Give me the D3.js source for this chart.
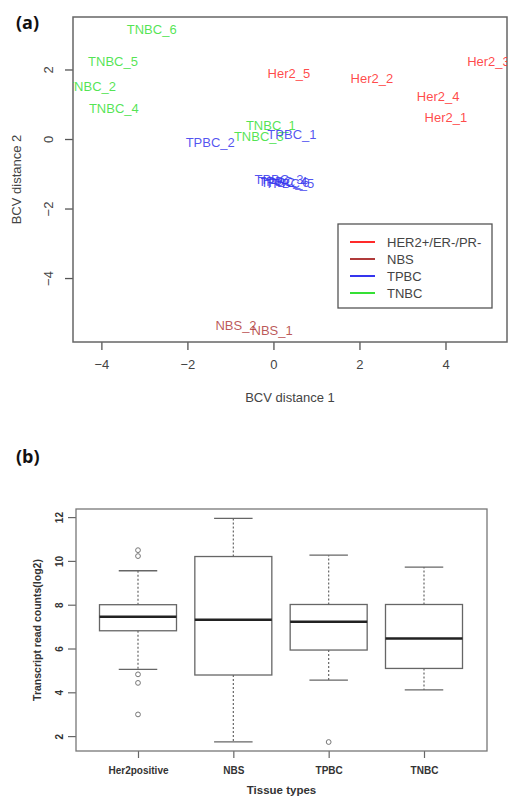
<!DOCTYPE html>
<html><head><meta charset="utf-8">
<script src="https://cdn.jsdelivr.net/npm/d3@7"></script>
<style>body{margin:0;background:#fff}svg{display:block}</style>
</head><body>
<svg id="c" width="518" height="807"></svg>
<script>
// ---------- Panel (a) data ----------
const sampleNames = ["TNBC_6","TNBC_5","TNBC_2","TNBC_4","TNBC_1","TNBC_3","TPBC_2","TPBC_1","TPBC_3","TPBC_4","TPBC_6","TPBC_5","Her2_5","Her2_2","Her2_3","Her2_4","Her2_1","NBS_2","NBS_1"];
const sampleX = [-2.83,-3.73,-4.24,-3.71,-0.06,-0.34,-1.47,0.43,0.13,0.22,0.27,0.38,0.36,2.29,5.0,3.83,4.01,-0.87,-0.03];
const sampleY = [3.14,2.22,1.50,0.89,0.40,0.06,-0.09,0.12,-1.17,-1.22,-1.25,-1.27,1.90,1.73,2.24,1.21,0.63,-5.35,-5.50];
const sampleGroup = ["TNBC","TNBC","TNBC","TNBC","TNBC","TNBC","TPBC","TPBC","TPBC","TPBC","TPBC","TPBC","HER2","HER2","HER2","HER2","HER2","NBS","NBS"];
const legendLabels = ["HER2+/ER-/PR-","NBS","TPBC","TNBC"];
const legendGroups = ["HER2","NBS","TPBC","TNBC"];
const xTicksA = [-4,-2,0,2,4];
const yTicksA = [-4,-2,0,2];

// ---------- Panel (b) data ----------
const tissueTypes = ["Her2positive","NBS","TPBC","TNBC"];
const whiskerLow  = [5.05, 1.74, 4.56, 4.11];
const q1          = [6.81, 4.79, 5.93, 5.09];
const medians     = [7.45, 7.31, 7.22, 6.46];
const q3          = [8.00, 10.20, 8.01, 8.01];
const whiskerHigh = [9.55, 11.94, 10.26, 9.72];
const outliers    = [[10.49,10.22,4.82,4.43,2.99],[],[1.73],[]];
const yTicksB = [2,4,6,8,10,12];

const color = {HER2:"#ff2a2a", NBS:"#b03a3a", TPBC:"#3535ee", TNBC:"#35e035"};

const svg = d3.select("#c");
const FONT = "Liberation Sans, Arial, sans-serif";

// ================= Panel (a) =================
const A = {l:73, r:507, t:17, b:342};
const xa = d3.scaleLinear().domain([-4.66,5.43]).range([A.l,A.r]);
const ya = d3.scaleLinear().domain([3.51,-5.84]).range([A.t,A.b]);

svg.append("text").attr("x",16).attr("y",29).attr("font-family","Open Sans, sans-serif")
  .attr("font-weight","bold").attr("font-size",18).attr("fill","#111").text("(a)");

const clipA = svg.append("clipPath").attr("id","clipA");
clipA.append("rect").attr("x",A.l).attr("y",A.t).attr("width",A.r-A.l).attr("height",A.b-A.t);

const gxA = svg.append("g").attr("transform",`translate(0,${A.b})`)
  .call(d3.axisBottom(xa).tickValues(xTicksA).tickSize(8).tickPadding(10).tickFormat(d3.format("d")));
gxA.select(".domain").remove();
gxA.selectAll("line").attr("stroke","#555").attr("stroke-width",1.3);
gxA.selectAll("text").attr("font-family",FONT).attr("font-size",13).attr("fill","#444");

const gyA = svg.append("g").attr("transform",`translate(${A.l},0)`)
  .call(d3.axisLeft(ya).tickValues(yTicksA).tickSize(8).tickFormat(d3.format("d")));
gyA.select(".domain").remove();
gyA.selectAll("line").attr("stroke","#555").attr("stroke-width",1.3);
gyA.selectAll("text").attr("x",null).attr("dy","0.35em").attr("text-anchor","middle")
  .attr("transform","translate(-25,0) rotate(-90)")
  .attr("font-family",FONT).attr("font-size",13).attr("fill","#444");

svg.append("rect").attr("x",A.l).attr("y",A.t).attr("width",A.r-A.l).attr("height",A.b-A.t)
  .attr("fill","none").attr("stroke","#666").attr("stroke-width",1.5);

svg.append("text").attr("x",(A.l+A.r)/2).attr("y",402).attr("text-anchor","middle")
  .attr("font-family",FONT).attr("font-size",13).attr("fill","#444").text("BCV distance 1");
svg.append("text").attr("transform",`translate(16,${(A.t+A.b)/2}) rotate(-90)`).attr("dy","0.35em")
  .attr("text-anchor","middle").attr("font-family",FONT).attr("font-size",13).attr("fill","#444").text("BCV distance 2");

svg.append("g").attr("clip-path","url(#clipA)").selectAll("text").data(sampleNames).join("text")
  .attr("x",(d,i)=>xa(sampleX[i])).attr("y",(d,i)=>ya(sampleY[i])).attr("dy","0.35em")
  .attr("text-anchor","middle").attr("font-family",FONT).attr("font-size",13)
  .attr("fill",(d,i)=>color[sampleGroup[i]]).attr("fill-opacity",0.85).text(d=>d);

// legend
const L = {x:338, y:224, w:154, h:84};
svg.append("rect").attr("x",L.x).attr("y",L.y).attr("width",L.w).attr("height",L.h)
  .attr("fill","#fff").attr("stroke","#555").attr("stroke-width",1.3);
const lg = svg.append("g").selectAll("g").data(legendLabels).join("g")
  .attr("transform",(d,i)=>`translate(0,${L.y+18+i*17})`);
lg.append("line").attr("x1",350).attr("x2",375).attr("stroke",(d,i)=>color[legendGroups[i]]).attr("stroke-width",2);
lg.append("text").attr("x",387).attr("dy","0.35em").attr("font-family",FONT).attr("font-size",13)
  .attr("fill","#444").text(d=>d);

// ================= Panel (b) =================
const B = {l:76, r:487, t:509, b:751};
const xb = d3.scalePoint().domain(tissueTypes).range([138,424]);
const yb = d3.scaleLinear().domain([1.32,12.37]).range([B.b,B.t]);
const boxW = 77;

svg.append("text").attr("x",16).attr("y",463).attr("font-family","Open Sans, sans-serif")
  .attr("font-weight","bold").attr("font-size",18).attr("fill","#111").text("(b)");

const gxB = svg.append("g").attr("transform",`translate(0,${B.b})`)
  .call(d3.axisBottom(xb).tickSize(7).tickPadding(9));
gxB.select(".domain").remove();
gxB.selectAll("line").attr("stroke","#666").attr("stroke-width",1.2);
gxB.selectAll("text").attr("font-family",FONT).attr("font-size",10).attr("font-weight","bold").attr("fill","#333");

const gyB = svg.append("g").attr("transform",`translate(${B.l},0)`)
  .call(d3.axisLeft(yb).tickValues(yTicksB).tickSize(8).tickFormat(d3.format("d")));
gyB.select(".domain").remove();
gyB.selectAll("line").attr("stroke","#666").attr("stroke-width",1.2);
gyB.selectAll("text").attr("x",null).attr("dy","0.35em").attr("text-anchor","middle")
  .attr("transform","translate(-17,0) rotate(-90)")
  .attr("font-family",FONT).attr("font-size",10).attr("font-weight","bold").attr("fill","#333");

svg.append("rect").attr("x",B.l).attr("y",B.t).attr("width",B.r-B.l).attr("height",B.b-B.t)
  .attr("fill","none").attr("stroke","#777").attr("stroke-width",1.3);

svg.append("text").attr("x",(B.l+B.r)/2).attr("y",794).attr("text-anchor","middle")
  .attr("font-family",FONT).attr("font-size",11.5).attr("font-weight","bold").attr("fill","#333").text("Tissue types");
svg.append("text").attr("transform",`translate(37,${(B.t+B.b)/2}) rotate(-90)`).attr("dy","0.35em")
  .attr("text-anchor","middle").attr("font-family",FONT).attr("font-size",10.5).attr("font-weight","bold")
  .attr("fill","#333").text("Transcript read counts(log2)");

const bx = svg.append("g").selectAll("g").data(tissueTypes).join("g");
// whiskers
bx.append("line").attr("x1",d=>xb(d)).attr("x2",d=>xb(d)).attr("y1",(d,i)=>yb(q3[i])).attr("y2",(d,i)=>yb(whiskerHigh[i]))
  .attr("stroke","#666").attr("stroke-width",1.2).attr("stroke-dasharray","2,2");
bx.append("line").attr("x1",d=>xb(d)).attr("x2",d=>xb(d)).attr("y1",(d,i)=>yb(q1[i])).attr("y2",(d,i)=>yb(whiskerLow[i]))
  .attr("stroke","#666").attr("stroke-width",1.2).attr("stroke-dasharray","2,2");
bx.append("line").attr("x1",d=>xb(d)-boxW/4).attr("x2",d=>xb(d)+boxW/4).attr("y1",(d,i)=>yb(whiskerHigh[i])).attr("y2",(d,i)=>yb(whiskerHigh[i]))
  .attr("stroke","#666").attr("stroke-width",1.3);
bx.append("line").attr("x1",d=>xb(d)-boxW/4).attr("x2",d=>xb(d)+boxW/4).attr("y1",(d,i)=>yb(whiskerLow[i])).attr("y2",(d,i)=>yb(whiskerLow[i]))
  .attr("stroke","#666").attr("stroke-width",1.3);
// boxes
bx.append("rect").attr("x",d=>xb(d)-boxW/2).attr("width",boxW).attr("y",(d,i)=>yb(q3[i])).attr("height",(d,i)=>yb(q1[i])-yb(q3[i]))
  .attr("fill","#fff").attr("stroke","#666").attr("stroke-width",1.3);
bx.append("line").attr("x1",d=>xb(d)-boxW/2).attr("x2",d=>xb(d)+boxW/2).attr("y1",(d,i)=>yb(medians[i])).attr("y2",(d,i)=>yb(medians[i]))
  .attr("stroke","#222").attr("stroke-width",2.6);
// outliers
bx.each(function(d,i){
  d3.select(this).selectAll("circle").data(outliers[i]).join("circle")
    .attr("cx",xb(d)).attr("cy",v=>yb(v)).attr("r",2.4).attr("fill","none").attr("stroke","#777").attr("stroke-width",1);
});
</script>
</body></html>
